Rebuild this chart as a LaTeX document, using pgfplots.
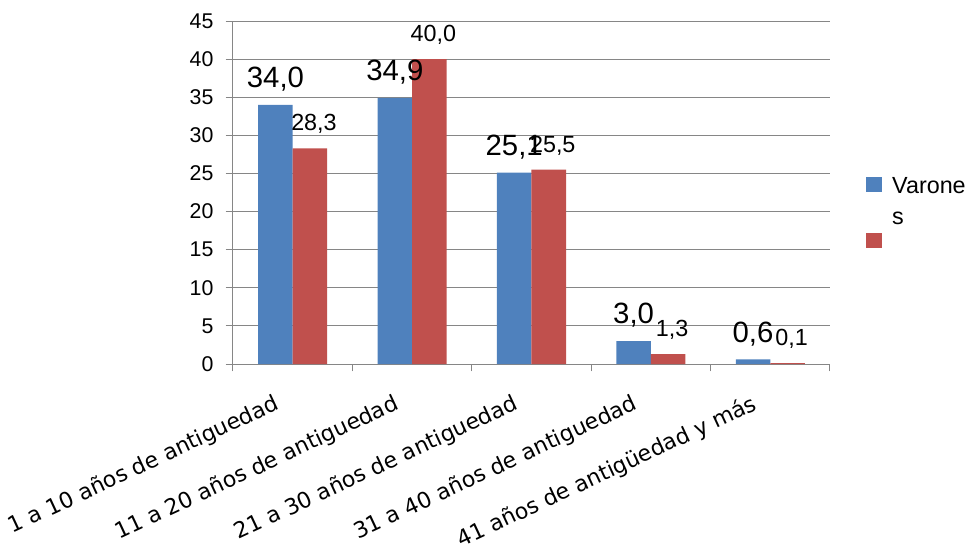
\documentclass[border=0pt]{standalone}
\usepackage{pgfplots}
\pgfplotsset{compat=1.18}
\usepackage{fontspec}
\setmainfont{Liberation Sans}
\newfontfamily\labelfont{DejaVu Sans}
\definecolor{barblue}{RGB}{79,129,189}
\definecolor{barred}{RGB}{192,80,77}
\definecolor{gridgray}{RGB}{134,134,134}

\begin{document}
\begin{tikzpicture}
\begin{axis}[
  at={(0pt,0pt)}, anchor=south west,
  scale only axis, width=447.75pt, height=257.25pt,
  xmin=-0.5, xmax=4.5, ymin=0, ymax=45,
  ytick={0,5,...,45},
  xtick={0,1,2,3,4},
  xticklabels={1 a 10 años de antiguedad, 11 a 20 años de antiguedad, 21 a 30 años de antiguedad, 31 a 40 años de antiguedad, 41 años de antigüedad y más},
  minor xtick={-0.5,0.5,...,4.5},
  axis lines*=left,
  axis line style={gridgray, line width=0.75pt},
  ymajorgrids, grid style={gridgray, line width=0.75pt},
  tick align=outside,
  major tick length=5.5pt, minor tick length=5.5pt,
  major x tick style={draw=none},
  minor x tick style={gridgray, line width=0.75pt},
  major y tick style={gridgray, line width=0.75pt},
  /pgf/number format/assume math mode=true,
  yticklabel style={font=\fontsize{16}{19}\selectfont, inner sep=0pt, xshift=-9pt,
    /pgf/number format/.cd, fixed, precision=0},
  xticklabel style={font=\labelfont\fontsize{16.5}{19}\selectfont, rotate=25, anchor=north east, inner sep=0pt, yshift=-8.5pt, xshift=-20pt},
  ybar=0pt, bar width=25.9pt,
  nodes near coords={\pgfmathprintnumber[fixed, fixed zerofill, precision=1, use comma, assume math mode=true]{\pgfplotspointmeta}},
  legend style={at={(1.06,0.549)}, anchor=north west, draw=none, fill=none, inner sep=0pt,
    font=\fontsize{17.5}{23}\selectfont, nodes={inner sep=0pt}, cells={anchor=base west},
    row sep=0pt, column sep=8pt},
  % key squares sit on the text baseline, centred 6.75pt above it
  legend image code/.code={\fill[#1,draw=none] (0pt,0.95pt) rectangle (11.6pt,12.55pt);},
]
\addplot[fill=barblue, draw=none,
  every node near coord/.append style={font=\fontsize{22}{26}\selectfont, anchor=base, inner sep=0pt, yshift=13pt, text=black}]
  coordinates {(0,34.0) (1,34.9) (2,25.1) (3,3.0) (4,0.6)};
\addlegendentry[text height=13pt, text depth=4pt]{Varone}
\addlegendimage{empty legend}
\addlegendentry[text height=19.25pt, text depth=6.2pt]{s}
\addplot[fill=barred, draw=none,
  every node near coord/.append style={font=\fontsize{17.5}{21}\selectfont, anchor=base, inner sep=0pt, yshift=13pt, xshift=3pt, text=black}]
  coordinates {(0,28.3) (1,40.0) (2,25.5) (3,1.3) (4,0.1)};
\addlegendentry[text height=12.55pt, text depth=0pt]{}
\end{axis}
\pgfresetboundingbox
\path[use as bounding box] (-174.75pt,-139.5pt) rectangle (553.5pt,273pt);
\end{tikzpicture}
\end{document}
